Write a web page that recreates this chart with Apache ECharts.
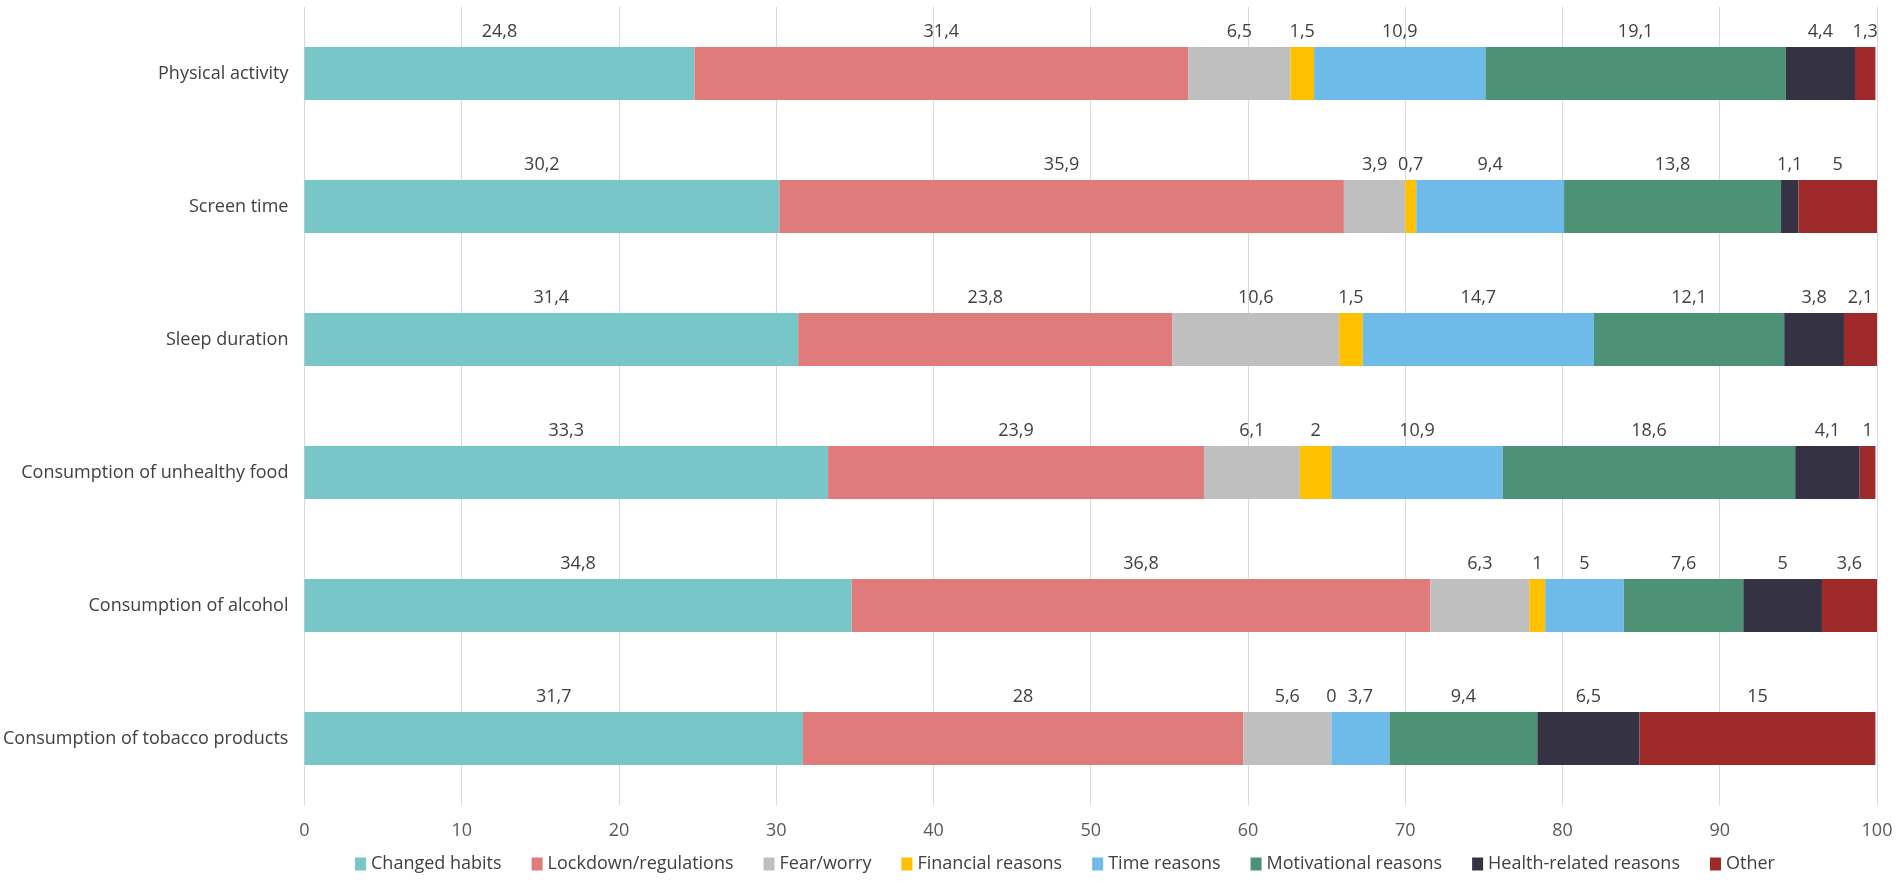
<!DOCTYPE html>
<html>
<head>
<meta charset="utf-8">
<style>
  html, body { margin: 0; padding: 0; background: #fff; }
  #chart { width: 1899px; height: 881px; }
</style>
<script src="https://cdn.jsdelivr.net/npm/echarts@6/dist/echarts.min.js"></script>
</head>
<body>
<div id="chart"></div>
<script>
// categories, top to bottom
const categories = ['Physical activity', 'Screen time', 'Sleep duration',
  'Consumption of unhealthy food', 'Consumption of alcohol', 'Consumption of tobacco products'];

// reasons (stack order, left to right)
const reasons = ['Changed habits', 'Lockdown/regulations', 'Fear/worry', 'Financial reasons',
  'Time reasons', 'Motivational reasons', 'Health-related reasons', 'Other'];

// values per reason, one entry per category
const changedHabits = [24.8, 30.2, 31.4, 33.3, 34.8, 31.7];
const lockdown      = [31.4, 35.9, 23.8, 23.9, 36.8, 28];
const fearWorry     = [6.5, 3.9, 10.6, 6.1, 6.3, 5.6];
const financial     = [1.5, 0.7, 1.5, 2, 1, 0];
const timeReasons   = [10.9, 9.4, 14.7, 10.9, 5, 3.7];
const motivational  = [19.1, 13.8, 12.1, 18.6, 7.6, 9.4];
const healthRelated = [4.4, 1.1, 3.8, 4.1, 5, 6.5];
const other         = [1.3, 5, 2.1, 1, 3.6, 15];

const xTicks = [0, 10, 20, 30, 40, 50, 60, 70, 80, 90, 100];

const seriesValues = [changedHabits, lockdown, fearWorry, financial,
  timeReasons, motivational, healthRelated, other];
const colors = ['#78C6C7', '#E07B7B', '#BFBFBF', '#FFC000',
  '#6EBBEA', '#4D9277', '#353343', '#9E2A2B'];

const FONT = '"Open Sans", sans-serif';

const chart = echarts.init(document.getElementById('chart'));

chart.setOption({
  animation: false,
  color: colors,
  textStyle: { fontFamily: FONT },
  grid: { left: 298, right: 22, top: 7, bottom: 76, containLabel: false },
  legend: {
    data: reasons,
    bottom: 3,
    left: 350,
    icon: 'rect',
    itemWidth: 11,
    itemHeight: 13,
    itemGap: 30,
    textStyle: { fontSize: 18, color: '#404040', fontFamily: FONT }
  },
  xAxis: {
    type: 'value',
    min: xTicks[0],
    max: xTicks[xTicks.length - 1],
    interval: 10,
    axisLine: { show: false },
    axisTick: { show: false },
    splitLine: { lineStyle: { color: '#D9D9D9', width: 1 } },
    axisLabel: { fontSize: 18, color: '#595959', margin: 17, fontFamily: FONT }
  },
  yAxis: {
    type: 'category',
    data: categories,
    inverse: true,
    axisLine: { show: false },
    axisTick: { show: false },
    axisLabel: { fontSize: 18, color: '#404040', margin: 16, fontFamily: FONT }
  },
  series: reasons.map((name, i) => ({
    name: name,
    type: 'bar',
    stack: 'total',
    barWidth: 53,
    data: seriesValues[i],
    label: {
      show: true,
      position: 'top',
      distance: 6,
      fontSize: 18,
      color: '#404040',
      fontFamily: FONT,
      formatter: p => String(p.value).replace('.', ',')
    }
  }))
});
</script>
</body>
</html>
